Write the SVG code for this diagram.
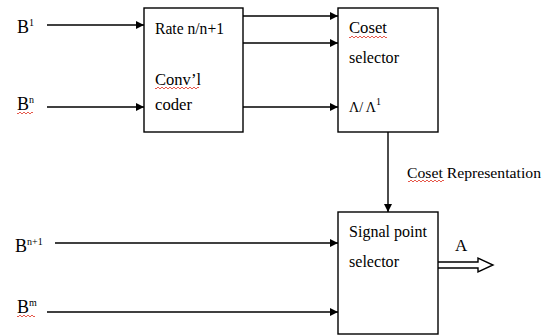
<svg xmlns="http://www.w3.org/2000/svg" width="550" height="336" viewBox="0 0 550 336">
<style>
text{font-family:"Liberation Serif","Times New Roman",serif;font-size:17px;fill:#000}
.b{font-size:18px}
.sup{font-size:10px}
.box{fill:#fff;stroke:#000;stroke-width:1.4}
.ln{stroke:#000;stroke-width:1.4;fill:none}
.arr{marker-end:url(#ah)}
.sq{fill:none;stroke:#e03020;stroke-width:0.8}
</style>
<defs>
<marker id="ah" markerWidth="8" markerHeight="8" refX="8" refY="4" orient="auto" markerUnits="userSpaceOnUse">
<path d="M0,0 L8,4 L0,8 Z" fill="#000"/>
</marker>
</defs>
<g id="connectors">
<line class="ln arr" x1="47" y1="25" x2="144" y2="25"/>
<line class="ln arr" x1="47" y1="107" x2="144" y2="107"/>
<line class="ln arr" x1="243" y1="16" x2="338" y2="16"/>
<line class="ln arr" x1="243" y1="43" x2="338" y2="43"/>
<line class="ln arr" x1="243" y1="107" x2="338" y2="107"/>
<line class="ln arr" x1="388" y1="132" x2="388" y2="212"/>
<line class="ln arr" x1="55" y1="243" x2="338" y2="243"/>
<line class="ln arr" x1="47" y1="312" x2="338" y2="312"/>
<path class="ln" d="M438,262 H478 V258 L493,265 L478,272 V268 H438" fill="#fff"/>
</g>
<g id="inputs">
<text class="b" x="17" y="33">B<tspan class="sup" dy="-7">1</tspan></text>
<text class="b" x="17" y="110">B<tspan class="sup" dy="-7">n</tspan></text>
<path class="sq" d="M17,113 q1,2 2,0 q1,-2 2,0 q1,2 2,0 q1,-2 2,0 q1,2 2,0 q1,-2 2,0 q1,2 2,0 q1,-2 2,0"/>
<text class="b" x="15" y="251.5">B<tspan class="sup" dy="-7">n+1</tspan></text>
<text class="b" x="17" y="313">B<tspan class="sup" dy="-7">m</tspan></text>
<path class="sq" d="M17,316 q1,2 2,0 q1,-2 2,0 q1,2 2,0 q1,-2 2,0 q1,2 2,0 q1,-2 2,0 q1,2 2,0 q1,-2 2,0 q1,2 2,0"/>
</g>
<g id="coder">
<rect class="box" x="144" y="8" width="99" height="124"/>
<text x="155" y="34" textLength="69" lengthAdjust="spacingAndGlyphs">Rate n/n+1</text>
<text x="155" y="85" textLength="46" lengthAdjust="spacingAndGlyphs">Conv’l</text>
<path class="sq" d="M155,88 q1,2 2,0 q1,-2 2,0 q1,2 2,0 q1,-2 2,0 q1,2 2,0 q1,-2 2,0 q1,2 2,0 q1,-2 2,0 q1,2 2,0 q1,-2 2,0 q1,2 2,0 q1,-2 2,0 q1,2 2,0 q1,-2 2,0 q1,2 2,0 q1,-2 2,0 q1,2 2,0 q1,-2 2,0 q1,2 2,0 q1,-2 2,0 q1,2 2,0 q1,-2 2,0"/>
<text x="155" y="110" textLength="37" lengthAdjust="spacingAndGlyphs">coder</text>
</g>
<g id="coset-selector">
<rect class="box" x="338" y="8" width="100" height="124"/>
<text x="349" y="33" textLength="38" lengthAdjust="spacingAndGlyphs">Coset</text>
<path class="sq" d="M349,37 q1,2 2,0 q1,-2 2,0 q1,2 2,0 q1,-2 2,0 q1,2 2,0 q1,-2 2,0 q1,2 2,0 q1,-2 2,0 q1,2 2,0 q1,-2 2,0 q1,2 2,0 q1,-2 2,0 q1,2 2,0 q1,-2 2,0 q1,2 2,0 q1,-2 2,0 q1,2 2,0 q1,-2 2,0 q1,2 2,0"/>
<text x="349" y="63" textLength="50" lengthAdjust="spacingAndGlyphs">selector</text>
<text x="349" y="112" style="font-size:14px">Λ/ Λ<tspan class="sup" dy="-7">1</tspan></text>
</g>
<g id="coset-label">
<text x="407" y="178" style="font-size:15px" textLength="134" lengthAdjust="spacingAndGlyphs">Coset Representation</text>
<path class="sq" d="M408,181 q1,2 2,0 q1,-2 2,0 q1,2 2,0 q1,-2 2,0 q1,2 2,0 q1,-2 2,0 q1,2 2,0 q1,-2 2,0 q1,2 2,0 q1,-2 2,0 q1,2 2,0 q1,-2 2,0 q1,2 2,0 q1,-2 2,0 q1,2 2,0 q1,-2 2,0 q1,2 2,0 q1,-2 2,0"/>
</g>
<g id="signal-point-selector">
<rect class="box" x="338" y="212" width="100" height="122"/>
<text x="349" y="237" textLength="78" lengthAdjust="spacingAndGlyphs">Signal point</text>
<text x="349" y="267" textLength="50" lengthAdjust="spacingAndGlyphs">selector</text>
</g>
<g id="output">
<text x="455" y="251">A</text>
</g>
</svg>
